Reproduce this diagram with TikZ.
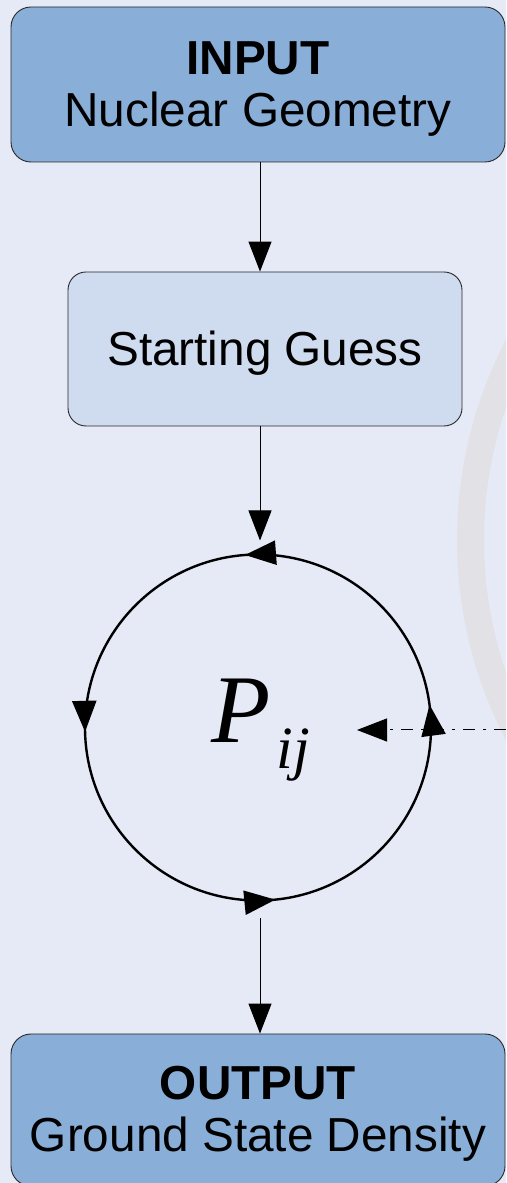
\documentclass[tikz,border=0pt]{standalone}
\usepackage{fontspec}
\setmainfont{Liberation Sans}
\newfontfamily\pserif{Liberation Serif}
\usetikzlibrary{arrows.meta,decorations.markings}
\definecolor{bgc}{RGB}{230,234,246}
\definecolor{ringc}{RGB}{226,226,230}
\definecolor{darkbox}{RGB}{137,174,216}
\definecolor{lightbox}{RGB}{207,220,240}
\definecolor{edgec}{RGB}{40,40,40}
\newcommand{\lowertext}[1]{\raisebox{-5pt}[\height][\depth]{#1}}
\tikzset{
  bigbox/.style={draw=edgec, line width=0.9pt, fill=darkbox, rounded corners=20pt,
    minimum width=494pt, inner sep=0pt,
    font=\fontsize{47.7}{54}\selectfont},
  guessbox/.style={draw=edgec, line width=0.9pt, fill=lightbox, rounded corners=18pt,
    minimum width=394pt, minimum height=154pt, inner sep=0pt,
    font=\fontsize{47.7}{54}\selectfont},
  flow/.style={line width=1pt, -{Triangle[length=30pt,width=23pt]}},
  loopline/.style={line width=2.4pt},
  feedback/.style={line width=1pt, dash pattern=on 12pt off 8pt on 3pt off 8pt,
    -{Triangle[length=30pt,width=23pt]}},
}
\begin{document}
\begin{tikzpicture}[x=1pt,y=1pt]
\useasboundingbox (0,0) rectangle (506,1183);
\fill[bgc] (0,0) rectangle (506,1183);
\begin{scope}
\clip (0,0) rectangle (506,1183);
\draw[ringc, line width=27pt] (890,643) circle[radius=419.5];
\end{scope}

\node[bigbox, minimum height=155pt] (in) at (258,1098.5)
  {\lowertext{\begin{tabular}{@{}c@{}}\textbf{INPUT}\\[-2pt]Nuclear Geometry\end{tabular}}};
\node[guessbox] (guess) at (265,834) {\raisebox{-4pt}[\height][\depth]{Starting Guess}};
\node[bigbox, minimum height=152pt] (out) at (258,73)
  {\lowertext{\begin{tabular}{@{}c@{}}\textbf{OUTPUT}\\[-2pt]Ground State Density\end{tabular}}};

\node[circle, minimum size=346pt, inner sep=0pt, outer sep=0pt] (loop) at (258,455.5) {};
\draw[loopline, postaction={decorate}, decoration={markings,
    mark=at position 0.021 with {\arrow{Triangle[length=31pt,width=24pt]}},
    mark=at position 0.262 with {\arrow{Triangle[length=31pt,width=24pt]}},
    mark=at position 0.504 with {\arrow{Triangle[length=31pt,width=24pt]}},
    mark=at position 0.766 with {\arrow{Triangle[length=31pt,width=24pt]}}}]
  (loop.center) circle[radius=173];

\node[inner sep=0pt, anchor=base west] (pij) at (211,440)
  {\pserif\itshape\fontsize{97}{97}\selectfont P\raisebox{-26pt}{\fontsize{60}{60}\selectfont\kern6pt ij}};

\coordinate (col) at (260,0);
\coordinate (fb) at (506,453);
\coordinate (fbend) at (357,453);

\draw[flow] (in.south -| col) -- (guess.north -| col);
\draw[flow] (guess.south -| col) -- ([yshift=14pt]loop.north -| col);
\draw[flow] ([yshift=-18pt]loop.south -| col) -- (out.north -| col);
\draw[feedback] (fb) -- (fbend);
\end{tikzpicture}
\end{document}
